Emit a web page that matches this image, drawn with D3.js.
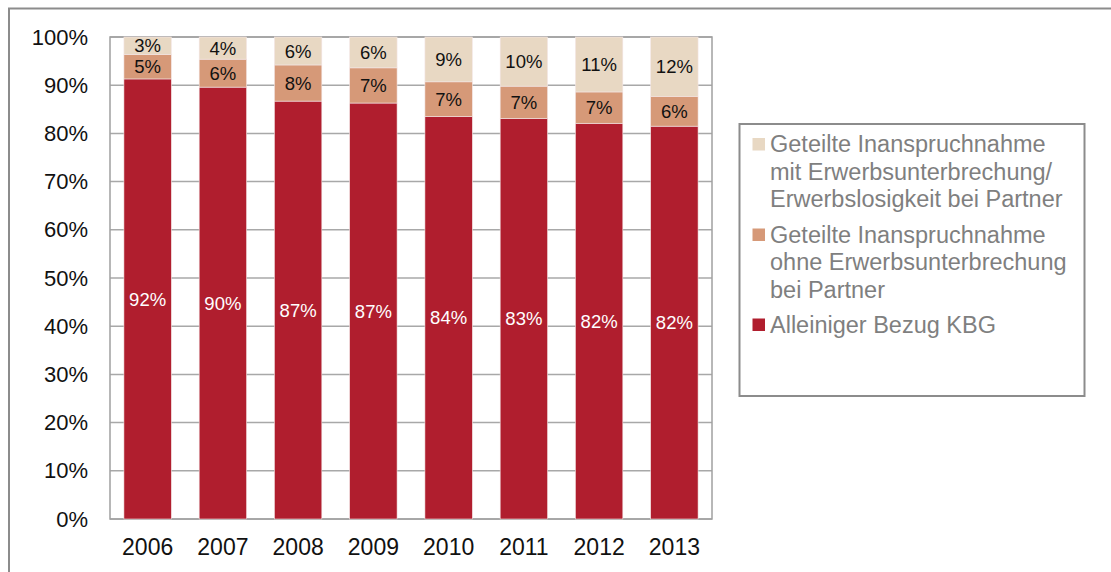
<!DOCTYPE html>
<html>
<head>
<meta charset="utf-8">
<script src="https://cdn.jsdelivr.net/npm/d3@7"></script>
<style>
  body { margin: 0; background: #fff; }
  svg text { font-family: "Liberation Sans", Arial, sans-serif; }
</style>
</head>
<body>
<svg id="chart" width="1111" height="572"></svg>
<script>
// data
var years = ["2006", "2007", "2008", "2009", "2010", "2011", "2012", "2013"];
var alleinig = [91.3, 89.6, 86.7, 86.3, 83.5, 83.1, 82.1, 81.5];
var ohneUnterbrechung = [5.1, 5.8, 7.5, 7.3, 7.2, 6.7, 6.5, 6.2];
var mitUnterbrechung = [3.6, 4.6, 5.8, 6.4, 9.3, 10.2, 11.4, 12.3];
var alleinigLabels = ["92%", "90%", "87%", "87%", "84%", "83%", "82%", "82%"];
var ohneLabels = ["5%", "6%", "8%", "7%", "7%", "7%", "7%", "6%"];
var mitLabels = ["3%", "4%", "6%", "6%", "9%", "10%", "11%", "12%"];
var yTicks = [0, 10, 20, 30, 40, 50, 60, 70, 80, 90, 100];

var colors = ["#b01e2e", "#d69978", "#e8d8c3"];
var labelColors = ["#ffffff", "#111111", "#111111"];

var rows = years.map(function (yr, i) {
  return { year: yr, a: alleinig[i], o: ohneUnterbrechung[i], m: mitUnterbrechung[i], i: i };
});
var keys = ["a", "o", "m"];
var labelSets = [alleinigLabels, ohneLabels, mitLabels];

var svg = d3.select("#chart");

// outer frame
svg.append("rect").attr("x", 9).attr("y", 8.5).attr("width", 1140).attr("height", 600)
  .attr("fill", "none").attr("stroke", "#8c8c8c").attr("stroke-width", 2);

var pLeft = 110, pRight = 712, pTop = 37, pBottom = 519;

var x = d3.scaleBand().domain(years).range([pLeft, pRight]).paddingInner(0.37).paddingOuter(0.185);
var y = d3.scaleLinear().domain([0, 100]).range([pBottom, pTop]);

// grid
svg.append("g").selectAll("line").data(yTicks).join("line")
  .attr("x1", pLeft).attr("x2", pRight)
  .attr("y1", d => y(d)).attr("y2", d => y(d))
  .attr("stroke", "#a8a8a8").attr("stroke-width", 1.5);

// plot border
svg.append("rect").attr("x", pLeft).attr("y", pTop).attr("width", pRight - pLeft).attr("height", pBottom - pTop)
  .attr("fill", "none").attr("stroke", "#a0a0a0").attr("stroke-width", 1.5);

var stacked = d3.stack().keys(keys)(rows);

var layers = svg.append("g").selectAll("g").data(stacked).join("g")
  .attr("fill", (d, i) => colors[i]);

layers.selectAll("rect").data(d => d).join("rect")
  .attr("x", d => x(d.data.year))
  .attr("width", x.bandwidth())
  .attr("y", d => y(d[1]))
  .attr("height", d => y(d[0]) - y(d[1]))
  .attr("stroke", "#f3e6e6").attr("stroke-width", 0.6);

// data labels
stacked.forEach(function (layer, k) {
  svg.append("g").selectAll("text").data(layer).join("text")
    .attr("x", d => x(d.data.year) + x.bandwidth() / 2)
    .attr("y", d => (y(d[0]) + y(d[1])) / 2)
    .attr("dy", "0.36em")
    .attr("text-anchor", "middle")
    .attr("font-size", "18.5px")
    .attr("fill", labelColors[k])
    .text(d => labelSets[k][d.data.i]);
});

// y axis labels
var yAxis = svg.append("g").attr("transform", "translate(" + pLeft + ",0)")
  .call(d3.axisLeft(y).tickValues(yTicks).tickFormat(d => d + "%").tickSize(0).tickPadding(22));
yAxis.select(".domain").remove();
yAxis.selectAll("text").attr("font-size", "22px").attr("fill", "#111").attr("font-family", "Liberation Sans, Arial, sans-serif");

// x axis labels
var xAxis = svg.append("g").attr("transform", "translate(0," + pBottom + ")")
  .call(d3.axisBottom(x).tickSize(0).tickPadding(20));
xAxis.select(".domain").remove();
xAxis.selectAll("text").attr("font-size", "23px").attr("fill", "#111").attr("font-family", "Liberation Sans, Arial, sans-serif");

// legend
var legend = svg.append("g");
legend.append("rect").attr("x", 739.5).attr("y", 124).attr("width", 345).attr("height", 272)
  .attr("fill", "#fff").attr("stroke", "#8c8c8c").attr("stroke-width", 2);

var legendItems = [
  { color: colors[2], lines: ["Geteilte Inanspruchnahme", "mit Erwerbsunterbrechung/", "Erwerbslosigkeit bei Partner"], y: 152 },
  { color: colors[1], lines: ["Geteilte Inanspruchnahme", "ohne Erwerbsunterbrechung", "bei Partner"], y: 242.5 },
  { color: colors[0], lines: ["Alleiniger Bezug KBG"], y: 332.5 }
];
legendItems.forEach(function (it) {
  legend.append("rect").attr("x", 752.5).attr("y", it.y - 14).attr("width", 12.5).attr("height", 12.5)
    .attr("fill", it.color);
  var t = legend.append("text").attr("x", 770).attr("y", it.y)
    .attr("font-size", "23.5px").attr("fill", "#7f7f7f");
  it.lines.forEach(function (l, j) {
    t.append("tspan").attr("x", 770).attr("y", it.y + j * 27.5).text(l);
  });
});
</script>
</body>
</html>
